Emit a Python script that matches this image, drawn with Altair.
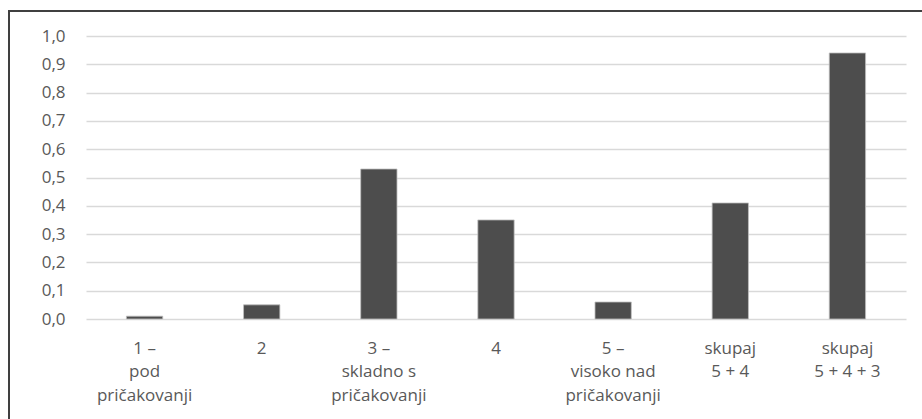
import altair as alt
import pandas as pd

# Share of responses per rating category
categories = [
    "1 –|pod|pričakovanji",
    "2",
    "3 –|skladno s|pričakovanji",
    "4",
    "5 –|visoko nad|pričakovanji",
    "skupaj|5 + 4",
    "skupaj|5 + 4 + 3",
]
values = [0.01, 0.05, 0.53, 0.35, 0.06, 0.41, 0.94]
y_ticks = [0.0, 0.1, 0.2, 0.3, 0.4, 0.5, 0.6, 0.7, 0.8, 0.9, 1.0]

df = pd.DataFrame({"kategorija": categories, "delez": values})

FONT = "Open Sans"
SIZE = 17
TEXT = "#595959"

bars = alt.Chart(df).mark_bar(
    color="#4d4d4d", stroke="#bfbfbf", strokeWidth=0.8
).encode(
    x=alt.X(
        "kategorija:N",
        sort=categories,
        title=None,
        scale=alt.Scale(paddingInner=0.69, paddingOuter=0.345),
        axis=alt.Axis(
            labelExpr="split(datum.label, '|')",
            labelAngle=0,
            labelFont=FONT,
            labelFontSize=SIZE,
            labelColor=TEXT,
            labelLineHeight=23.8,
            labelPadding=21,
            labelBaseline="top",
            ticks=False,
            domain=False,
            labelLimit=200,
        ),
    ),
    y=alt.Y(
        "delez:Q",
        title=None,
        scale=alt.Scale(domain=[0, 1], nice=False),
        axis=alt.Axis(
            values=y_ticks,
            labelExpr="replace(format(datum.value, '.1f'), '.', ',')",
            labelFont=FONT,
            labelFontSize=SIZE,
            labelColor=TEXT,
            labelPadding=21,
            ticks=False,
            domain=False,
            grid=True,
            gridColor="#d9d9d9",
            gridWidth=1.3,
        ),
    ),
)

# Outer frame around the whole chart
frame = alt.Chart(df).mark_rect(
    filled=False, stroke="#404040", strokeWidth=1.3
).encode(
    x=alt.value(-77),
    x2=alt.value(840),
    y=alt.value(-25),
    y2=alt.value(385),
)

chart = alt.layer(frame, bars).properties(
    width=820,
    height=283,
    padding={"left": 86, "top": 36, "right": 16, "bottom": 100},
    autosize=alt.AutoSizeParams(type="none"),
    background="white",
).configure_view(stroke=None)

chart.save("out.html", embed_options={"renderer": "svg", "actions": False})
